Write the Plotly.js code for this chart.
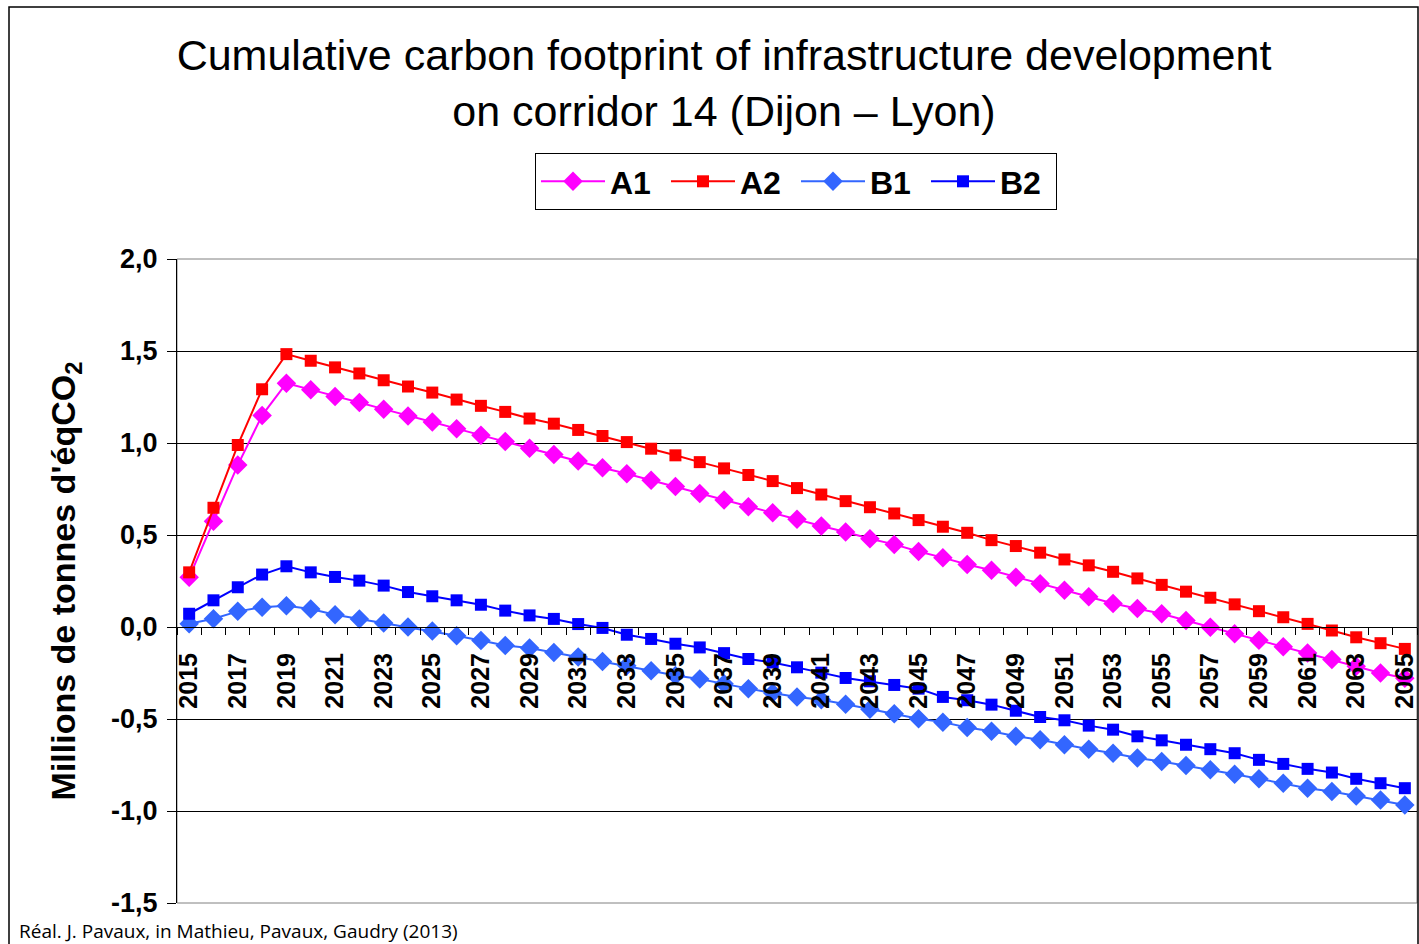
<!DOCTYPE html>
<html>
<head>
<meta charset="utf-8">
<script src="https://cdn.plot.ly/plotly-3.0.1.min.js"></script>
<style>
  html, body { margin: 0; padding: 0; background: #fff; }
  #chart { width: 1419px; height: 944px; }
</style>
</head>
<body>
<div id="chart"></div>
<script>
const years = [2015,2016,2017,2018,2019,2020,2021,2022,2023,2024,2025,2026,2027,2028,2029,2030,
  2031,2032,2033,2034,2035,2036,2037,2038,2039,2040,2041,2042,2043,2044,2045,2046,2047,2048,2049,2050,
  2051,2052,2053,2054,2055,2056,2057,2058,2059,2060,2061,2062,2063,2064,2065];

const A1 = [0.27,0.575,0.88,1.15,1.325,1.29,1.253,1.22,1.184,1.147,1.114,1.078,1.042,1.008,0.971,0.938,
  0.902,0.866,0.833,0.797,0.763,0.726,0.690,0.654,0.621,0.585,0.549,0.516,0.48,0.449,0.41,0.377,0.34,0.308,0.271,0.235,
  0.20,0.164,0.128,0.10,0.072,0.035,-0.001,-0.037,-0.072,-0.108,-0.141,-0.177,-0.213,-0.25,-0.279];

const A2 = [0.297,0.648,0.989,1.292,1.483,1.447,1.411,1.378,1.341,1.307,1.274,1.236,1.202,1.169,1.133,1.105,
  1.071,1.038,1.005,0.969,0.933,0.896,0.862,0.826,0.793,0.755,0.72,0.684,0.651,0.617,0.581,0.545,0.512,0.472,0.44,0.404,
  0.367,0.335,0.30,0.264,0.229,0.192,0.159,0.123,0.086,0.053,0.017,-0.019,-0.056,-0.088,-0.119];

const B1 = [0.018,0.045,0.085,0.107,0.116,0.098,0.067,0.044,0.022,0.0,-0.022,-0.048,-0.073,-0.10,-0.114,-0.138,
  -0.163,-0.187,-0.211,-0.238,-0.264,-0.283,-0.309,-0.336,-0.359,-0.38,-0.396,-0.42,-0.447,-0.472,-0.499,-0.517,-0.546,-0.567,-0.594,-0.613,
  -0.64,-0.664,-0.686,-0.712,-0.731,-0.753,-0.776,-0.80,-0.825,-0.849,-0.876,-0.894,-0.918,-0.94,-0.967];

const B2 = [0.072,0.145,0.216,0.285,0.330,0.297,0.272,0.252,0.225,0.190,0.167,0.145,0.121,0.089,0.063,0.044,
  0.016,-0.005,-0.042,-0.065,-0.091,-0.111,-0.142,-0.174,-0.193,-0.219,-0.248,-0.277,-0.295,-0.315,-0.335,-0.38,-0.398,-0.422,-0.455,-0.489,
  -0.507,-0.536,-0.558,-0.594,-0.616,-0.640,-0.664,-0.686,-0.722,-0.744,-0.771,-0.791,-0.825,-0.849,-0.876];

const xTickVals = [2015,2017,2019,2021,2023,2025,2027,2029,2031,2033,2035,2037,2039,2041,2043,2045,2047,2049,2051,2053,2055,2057,2059,2061,2063,2065];
const yTickVals = [-1.5,-1.0,-0.5,0.0,0.5,1.0,1.5,2.0];
const yTickText = ['-1,5','-1,0','-0,5','0,0','0,5','1,0','1,5','2,0'];

const seriesNames = ['A1','A2','B1','B2'];
const FONT = 'Liberation Sans, Arial, sans-serif';

const traces = [
  {x: years, y: A1, name: seriesNames[0], mode: 'lines+markers', type: 'scatter',
   line: {color: '#FF00FF', width: 2}, marker: {symbol: 'diamond', size: 15, color: '#FF00FF'}},
  {x: years, y: A2, name: seriesNames[1], mode: 'lines+markers', type: 'scatter',
   line: {color: '#FF0000', width: 2}, marker: {symbol: 'square', size: 12, color: '#FF0000'}},
  {x: years, y: B1, name: seriesNames[2], mode: 'lines+markers', type: 'scatter',
   line: {color: '#3366FF', width: 2}, marker: {symbol: 'diamond', size: 15, color: '#3366FF'}},
  {x: years, y: B2, name: seriesNames[3], mode: 'lines+markers', type: 'scatter',
   line: {color: '#0000FF', width: 2}, marker: {symbol: 'square', size: 12, color: '#0000FF'}}
];

const L = 177, R = 1417, T = 259, B = 903;
const pw = R - L, ph = B - T;
const px = v => (v - L) / pw;
const py = v => (B - v) / ph;

const layout = {
  width: 1419, height: 944,
  margin: {l: L, r: 1419 - R, t: T, b: 944 - B, pad: 0},
  paper_bgcolor: '#ffffff', plot_bgcolor: '#ffffff',
  font: {family: FONT, color: '#000'},
  showlegend: true,
  title: {
    text: 'Cumulative carbon footprint of infrastructure development<br>on corridor 14 (Dijon – Lyon)',
    font: {family: FONT, size: 43, color: '#000'},
    xref: 'container', x: 724 / 1419, xanchor: 'center',
    yref: 'container', y: 1 - 70 / 944, yanchor: 'top'
  },
  legend: {
    orientation: 'h', x: px(796), xanchor: 'center', y: py(153), yanchor: 'top',
    bordercolor: '#000', borderwidth: 1, bgcolor: '#fff',
    font: {family: FONT, size: 32, weight: 'bold', color: '#000'},
    itemwidth: 64, entrywidth: 51, tracegroupgap: 0
  },
  xaxis: {
    type: 'linear', range: [2014.5, 2065.5], fixedrange: true,
    anchor: 'free', position: 1.5 / 3.5,
    showline: true, linecolor: '#000', linewidth: 1,
    showgrid: false, zeroline: false,
    tickmode: 'array', tickvals: xTickVals, ticktext: xTickVals.map(String),
    ticks: 'outside', ticklen: 15, tickcolor: 'rgba(0,0,0,0)',
    tickangle: -90,
    tickfont: {family: FONT, size: 25, weight: 'bold', color: '#000'},
    minor: {tick0: 2014.5, dtick: 1, ticks: 'outside', ticklen: 7, tickcolor: '#000', tickwidth: 1, showgrid: false}
  },
  yaxis: {
    range: [-1.5, 2.0], fixedrange: true,
    tickmode: 'array', tickvals: yTickVals, ticktext: yTickText,
    ticks: 'outside', ticklen: 9, tickcolor: '#000', tickwidth: 1,
    ticklabelstandoff: 4,
    showline: true, linecolor: '#000', linewidth: 1,
    showgrid: true, gridcolor: '#000', gridwidth: 1, zeroline: false,
    tickfont: {family: FONT, size: 27, weight: 'bold', color: '#000'},
    title: {text: "Millions de tonnes d'éqCO<sub>2</sub>", font: {family: FONT, size: 34, weight: 'bold', color: '#000'}, standoff: 25}
  },
  shapes: [
    {type: 'rect', xref: 'paper', yref: 'paper', x0: 0, x1: 1, y0: 0, y1: 1,
     line: {color: '#808080', width: 1}, fillcolor: 'rgba(0,0,0,0)', layer: 'below'},
    {type: 'rect', xref: 'paper', yref: 'paper', x0: px(9), x1: px(1418), y0: py(960), y1: py(7),
     line: {color: '#000', width: 1.5}, fillcolor: 'rgba(0,0,0,0)', layer: 'above'}
  ],
  annotations: [
    {text: 'Réal. J. Pavaux, in Mathieu, Pavaux, Gaudry (2013)', xref: 'paper', yref: 'paper',
     x: px(17), xanchor: 'left', y: py(931), yanchor: 'middle', showarrow: false,
     font: {family: 'Open Sans, sans-serif', size: 19, color: '#000'}}
  ]
};

Plotly.newPlot('chart', traces, layout, {displayModeBar: false, staticPlot: true});
</script>
</body>
</html>
